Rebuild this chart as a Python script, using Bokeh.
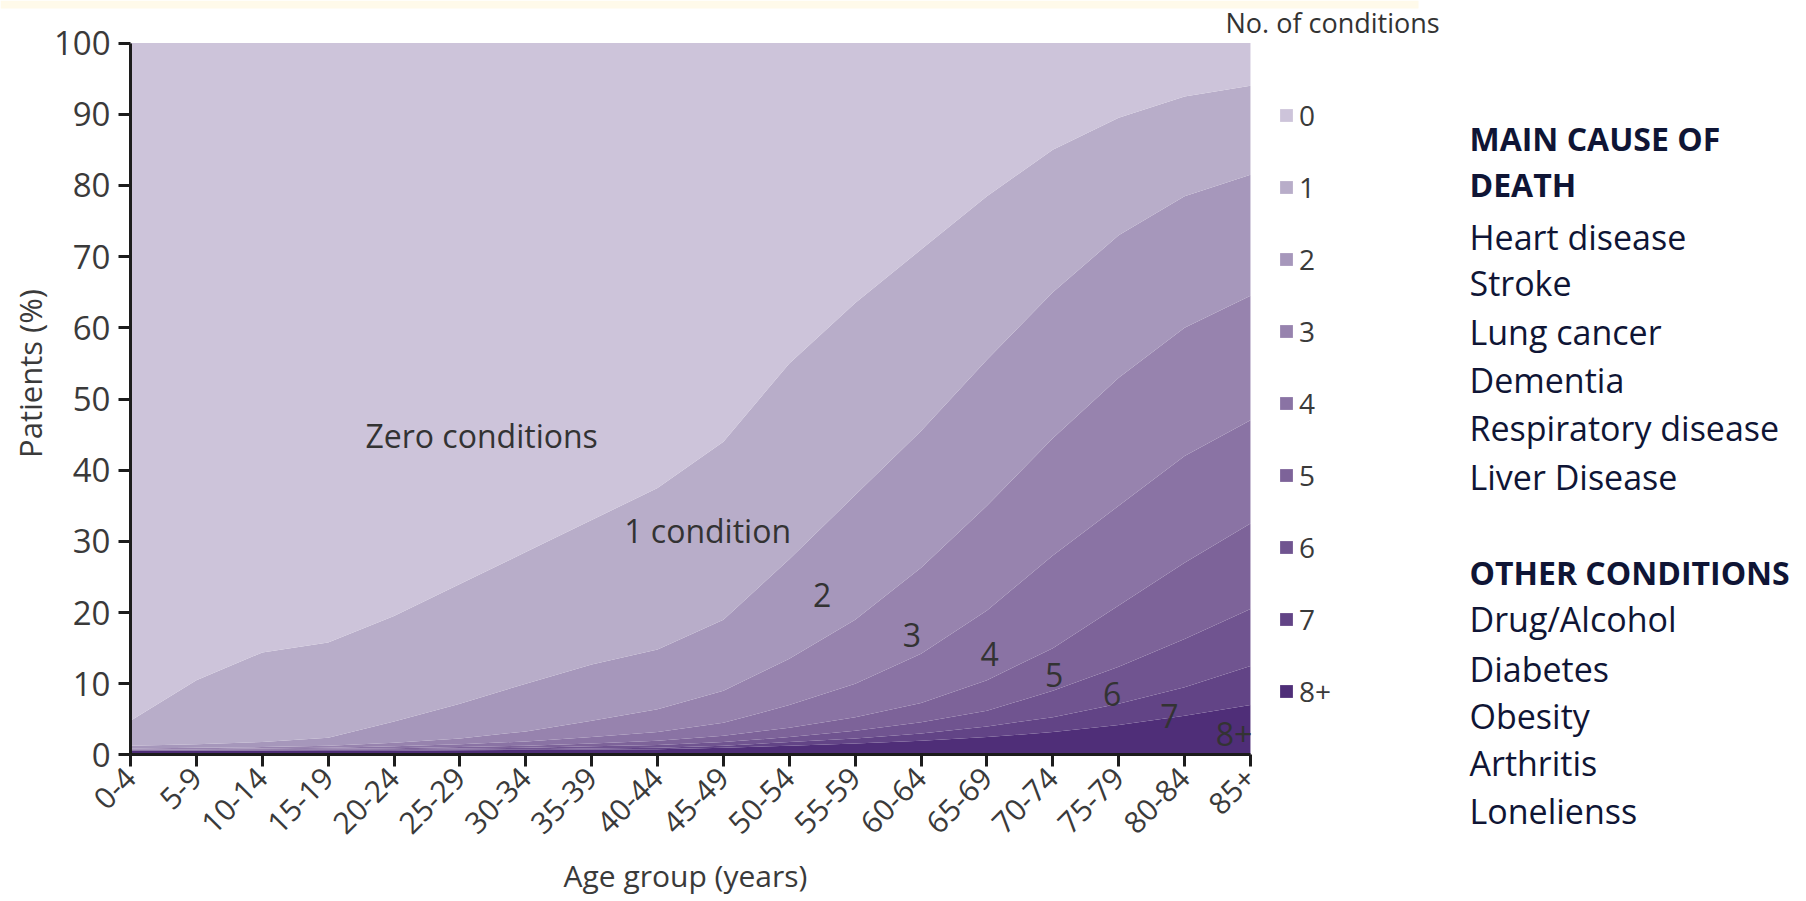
import numpy as np
from bokeh.plotting import figure
from bokeh.models import Range1d, FixedTicker, Label, Legend, LegendItem, ColumnDataSource, BoxAnnotation
from bokeh.embed import file_html
from bokeh.resources import INLINE

# ---------------- data ----------------
age_groups = ["0-4", "5-9", "10-14", "15-19", "20-24", "25-29", "30-34", "35-39", "40-44",
              "45-49", "50-54", "55-59", "60-64", "65-69", "70-74", "75-79", "80-84", "85+"]

# share of patients (%) by number of conditions, per age group
cond_0 = [95.2, 89.5, 85.6, 84.2, 80.5, 76.0, 71.5, 67.0, 62.5, 56.0, 45.0, 36.5, 29.0, 21.5, 15.0, 10.5, 7.5, 6.0]
cond_1 = [3.5, 9.0, 12.6, 13.4, 14.8, 16.8, 18.5, 20.3, 22.7, 25.0, 27.5, 27.0, 25.5, 23.0, 20.0, 16.5, 14.0, 12.5]
cond_2 = [0.4, 0.5, 0.7, 1.1, 3.0, 4.9, 6.7, 7.9, 8.4, 10.0, 14.0, 17.5, 19.2, 20.5, 20.5, 20.0, 18.5, 17.0]
cond_3 = [0.1, 0.2, 0.2, 0.3, 0.5, 0.8, 1.4, 2.3, 3.2, 4.5, 6.5, 9.0, 12.1, 14.7, 16.5, 18.0, 18.0, 17.5]
cond_4 = [0.05, 0.05, 0.1, 0.15, 0.25, 0.4, 0.6, 0.9, 1.2, 1.8, 3.2, 4.7, 6.9, 9.8, 13.0, 14.0, 15.0, 14.5]
cond_5 = [0.05, 0.05, 0.1, 0.1, 0.15, 0.2, 0.3, 0.4, 0.6, 0.9, 1.3, 1.9, 2.7, 4.3, 6.0, 8.6, 10.7, 12.0]
cond_6 = [0.05, 0.05, 0.05, 0.05, 0.1, 0.15, 0.2, 0.3, 0.4, 0.5, 0.7, 1.1, 1.6, 2.2, 3.7, 5.2, 6.8, 8.0]
cond_7 = [0.05, 0.05, 0.05, 0.1, 0.1, 0.1, 0.1, 0.15, 0.2, 0.3, 0.5, 0.7, 1.0, 1.5, 2.1, 3.0, 4.0, 5.5]
cond_8p = [0.6, 0.6, 0.6, 0.6, 0.6, 0.65, 0.7, 0.75, 0.8, 1.0, 1.3, 1.6, 2.0, 2.5, 3.2, 4.2, 5.5, 7.0]

legend_labels = ["0", "1", "2", "3", "4", "5", "6", "7", "8+"]
band_colors = ["#CDC4DA", "#B8ADC9", "#A697BB", "#9783AE", "#8A73A4",
               "#7D6399", "#705490", "#624486", "#4F2E78"]
y_ticks = [0, 10, 20, 30, 40, 50, 60, 70, 80, 90, 100]

# in-chart annotations: (text, x in age-group index, y in %)
area_labels = [("Zero conditions", 5.33, 44.9), ("1 condition", 8.76, 31.5), ("2", 10.5, 22.5),
               ("3", 11.86, 16.9), ("4", 13.04, 14.2), ("5", 14.02, 11.2), ("6", 14.9, 8.5),
               ("7", 15.77, 5.4), ("8+", 16.75, 3.0)]

# side text: (text, bold, vertical position in page pixels)
side_lines = [("MAIN CAUSE OF", True, 138), ("DEATH", True, 184), ("Heart disease", False, 236),
              ("Stroke", False, 282), ("Lung cancer", False, 331), ("Dementia", False, 379),
              ("Respiratory disease", False, 427), ("Liver Disease", False, 476),
              ("OTHER CONDITIONS", True, 572), ("Drug/Alcohol", False, 618),
              ("Diabetes", False, 668), ("Obesity", False, 715), ("Arthritis", False, 762),
              ("Lonelienss", False, 810)]

# ---------------- layout geometry (page pixels) ----------------
W, H = 1804, 899
X0, DX = 130.0, 65.88     # x pixel of first age group, pixels per group
Y0, DY = 754.4, 7.118     # y pixel of 0 %, pixels per percent


def fx(px):
    return (px - X0) / DX


def fy(py):
    return (Y0 - py) / DY


FONT = "Open Sans"
TXT = "#3a3a3a"

series = [cond_0, cond_1, cond_2, cond_3, cond_4, cond_5, cond_6, cond_7, cond_8p]
keys = ["c0", "c1", "c2", "c3", "c4", "c5", "c6", "c7", "c8"]
data = {"x": list(range(len(age_groups)))}
for k, s in zip(keys, series):
    data[k] = s
source = ColumnDataSource(data)

p = figure(width=W, height=H, x_range=Range1d(fx(0), fx(W)), y_range=Range1d(fy(H), fy(0)),
           output_backend="svg", toolbar_location=None, min_border=0)
p.title.visible = False

# thin cream strip along the top of the pasted chart image
p.add_layout(BoxAnnotation(left=fx(0), right=fx(1418), top=fy(0), bottom=fy(8),
                           fill_color="#FFFAEA", fill_alpha=1.0, line_color=None))

stack_keys = keys[::-1]            # bottom (8+) to top (0)
stack_cols = band_colors[::-1]
rends = p.varea_stack(stackers=stack_keys, x="x", fill_color=stack_cols, source=source)
rend_by_key = dict(zip(stack_keys, rends))

p.grid.visible = False
p.outline_line_color = None
p.background_fill_color = "white"
p.border_fill_color = "white"

for ax in (p.xaxis[0], p.yaxis[0]):
    ax.fixed_location = 0
    ax.axis_line_width = 3
    ax.axis_line_color = "#1c1c1c"
    ax.major_tick_line_width = 3
    ax.major_tick_line_color = "#1c1c1c"
    ax.major_tick_out = 12
    ax.major_tick_in = 0
    ax.minor_tick_line_color = None
    ax.major_label_text_font = FONT
    ax.major_label_text_color = TXT

p.xaxis.bounds = (0, len(age_groups) - 1)
p.xaxis.ticker = FixedTicker(ticks=list(range(len(age_groups))))
p.xaxis.major_label_overrides = {i: g for i, g in enumerate(age_groups)}
p.xaxis.major_label_orientation = np.pi / 4
p.xaxis.major_label_standoff = 6
p.xaxis.major_label_text_font_size = "30px"
p.yaxis.bounds = (0, 100)
p.yaxis.ticker = FixedTicker(ticks=y_ticks)
p.yaxis.major_label_standoff = 8
p.yaxis.major_label_text_font_size = "33px"


def lab(text, px, py, size, align="left", angle=0.0, color=TXT, style="normal"):
    p.add_layout(Label(x=fx(px), y=fy(py), text=text, angle=angle, text_align=align,
                       text_baseline="middle", text_font=FONT, text_font_size=size,
                       text_font_style=style, text_color=color))


# axis titles and legend title
lab("Patients (%)", 29, 373, "31px", align="center", angle=np.pi / 2)
lab("Age group (years)", 685, 875, "30px", align="center")
lab("No. of conditions", 1225, 22, "27px", color="#333333")

for t, lx, ly in area_labels:
    p.add_layout(Label(x=lx, y=ly, text=t, text_align="center", text_baseline="middle",
                       text_font=FONT, text_font_size="32px", text_color="#333333"))

# legend
LH, SP = 40, 32
legend_h = 9 * LH + 8 * SP
items = [LegendItem(label=lb, renderers=[rend_by_key[k]]) for lb, k in zip(legend_labels, keys)]
legend = Legend(items=items, location=(1278, H - 95 - legend_h), orientation="vertical",
                glyph_width=16, glyph_height=16, label_height=LH, spacing=SP,
                padding=0, margin=0, label_standoff=5, border_line_color=None,
                background_fill_alpha=0, label_text_font=FONT, label_text_font_size="28px",
                label_text_color=TXT)
p.add_layout(legend)

# side text
for t, bold, yy in side_lines:
    lab(t, 1469, yy, "32px" if bold else "34px", color="#0f1535",
        style="bold" if bold else "normal")

open("out.html", "w").write(file_html(p, INLINE))
